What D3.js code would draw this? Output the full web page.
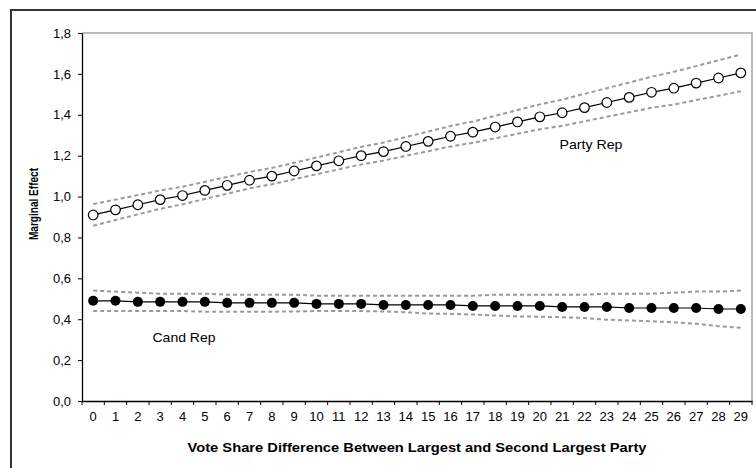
<!DOCTYPE html>
<html>
<head>
<meta charset="utf-8">
<script src="https://cdn.jsdelivr.net/npm/d3@7"></script>
<style>
  html, body { margin: 0; padding: 0; background: #fff; }
  svg { display: block; font-family: "Liberation Sans", Arial, sans-serif; }
</style>
</head>
<body>
<svg id="chart" width="756" height="468"></svg>
<script>
// Vote share difference categories (0..29)
const categories = ["0","1","2","3","4","5","6","7","8","9","10","11","12","13","14","15","16","17","18","19","20","21","22","23","24","25","26","27","28","29"];

// Party Rep: marginal effect and confidence bounds
const partyRep = [0.91,0.935,0.96,0.985,1.005,1.03,1.055,1.08,1.10,1.125,1.15,1.175,1.20,1.22,1.245,1.27,1.295,1.315,1.34,1.365,1.39,1.41,1.435,1.46,1.485,1.51,1.53,1.555,1.58,1.605];
const partyUpper = [0.963,0.985,1.007,1.030,1.048,1.072,1.096,1.120,1.140,1.165,1.191,1.217,1.243,1.264,1.291,1.318,1.345,1.367,1.395,1.423,1.451,1.474,1.502,1.530,1.558,1.586,1.610,1.638,1.667,1.695];
const partyLower = [0.857,0.885,0.913,0.940,0.962,0.988,1.014,1.040,1.060,1.085,1.109,1.133,1.157,1.176,1.199,1.222,1.245,1.263,1.285,1.307,1.329,1.346,1.368,1.390,1.412,1.434,1.450,1.472,1.493,1.515];

// Cand Rep: marginal effect and confidence bounds
const candRep = [0.49,0.49,0.485,0.485,0.485,0.485,0.48,0.48,0.48,0.48,0.475,0.475,0.475,0.47,0.47,0.47,0.47,0.465,0.465,0.465,0.465,0.46,0.46,0.46,0.455,0.455,0.455,0.455,0.45,0.45];
const candUpper = [0.54,0.535,0.53,0.525,0.525,0.525,0.52,0.52,0.52,0.52,0.515,0.515,0.515,0.515,0.515,0.515,0.515,0.515,0.52,0.52,0.52,0.52,0.52,0.525,0.525,0.525,0.53,0.535,0.535,0.54];
const candLower = [0.44,0.44,0.44,0.44,0.44,0.437,0.436,0.436,0.437,0.438,0.44,0.44,0.44,0.438,0.434,0.428,0.426,0.423,0.418,0.414,0.412,0.41,0.406,0.398,0.394,0.39,0.385,0.378,0.366,0.358];

const yTicks = [0,0.2,0.4,0.6,0.8,1.0,1.2,1.4,1.6,1.8];

const xTitle = "Vote Share Difference Between Largest and Second Largest Party";
const yTitle = "Marginal Effect";
const seriesLabels = ["Party Rep", "Cand Rep"];

const svg = d3.select("#chart");
const plot = { left: 82, right: 752, top: 33, bottom: 401 };

// Outer chart frame
svg.append("rect")
  .attr("x", 11).attr("y", 10)
  .attr("width", 760).attr("height", 470)
  .attr("fill", "#fff").attr("stroke", "#333").attr("stroke-width", 2);

const x = d3.scaleBand().domain(categories).range([plot.left, plot.right]).padding(0);
const cx = d => x(d) + x.bandwidth() / 2;
const y = d3.scaleLinear().domain([0, 1.8]).range([plot.bottom, plot.top]);

const locale = d3.formatLocale({ decimal: ",", thousands: ".", grouping: [3], currency: ["", ""] });
const fmt = locale.format(".1f");

// Plot area border (top and right)
svg.append("path")
  .attr("d", `M${plot.left},${plot.top}H${plot.right}V${plot.bottom}`)
  .attr("fill", "none").attr("stroke", "#a6a6a6").attr("stroke-width", 1.5);

// Y axis
const yAxis = svg.append("g")
  .attr("transform", `translate(${plot.left},0)`)
  .call(d3.axisLeft(y).tickValues(yTicks).tickFormat(fmt).tickSize(4).tickSizeOuter(0).tickPadding(7));
yAxis.select(".domain").attr("stroke", "#000").attr("stroke-width", 1.3);
yAxis.selectAll(".tick line").attr("stroke", "#000");
yAxis.selectAll(".tick text").attr("font-size", "13px").attr("fill", "#000")
  .attr("font-family", "Liberation Sans, Arial, sans-serif");

// X axis: labels centred in each band, tick marks on band edges
const xAxis = svg.append("g")
  .attr("transform", `translate(0,${plot.bottom})`)
  .call(d3.axisBottom(x).tickSize(0).tickSizeOuter(0).tickPadding(11));
xAxis.select(".domain").attr("stroke", "#000").attr("stroke-width", 1.3);
xAxis.selectAll(".tick text").attr("font-size", "13px").attr("fill", "#000")
  .attr("font-family", "Liberation Sans, Arial, sans-serif");
const edges = categories.map(d => x(d)).concat([plot.right]);
svg.append("g").selectAll("line").data(edges).join("line")
  .attr("x1", d => d).attr("x2", d => d)
  .attr("y1", plot.bottom).attr("y2", plot.bottom + 4)
  .attr("stroke", "#000").attr("stroke-width", 1);

// Axis titles
svg.append("text")
  .attr("x", (plot.left + plot.right) / 2).attr("y", 451.5)
  .attr("text-anchor", "middle").attr("font-weight", "bold").attr("font-size", "13px")
  .attr("textLength", 459).attr("lengthAdjust", "spacingAndGlyphs")
  .text(xTitle);
svg.append("text")
  .attr("transform", "translate(38,204) rotate(-90)")
  .attr("text-anchor", "middle").attr("font-weight", "bold").attr("font-size", "13px")
  .attr("textLength", 72).attr("lengthAdjust", "spacingAndGlyphs")
  .text(yTitle);

const line = d3.line().x((d, i) => cx(categories[i])).y(d => y(d));

// Confidence bounds (dashed)
[partyUpper, partyLower, candUpper, candLower].forEach(arr => {
  svg.append("path").datum(arr)
    .attr("d", line)
    .attr("fill", "none").attr("stroke", "#9a9a9a")
    .attr("stroke-width", 2).attr("stroke-dasharray", "4,3");
});

// Point-estimate lines
[partyRep, candRep].forEach(arr => {
  svg.append("path").datum(arr)
    .attr("d", line)
    .attr("fill", "none").attr("stroke", "#000").attr("stroke-width", 1.2);
});

// Markers
svg.append("g").selectAll("circle").data(partyRep).join("circle")
  .attr("cx", (d, i) => cx(categories[i])).attr("cy", d => y(d))
  .attr("r", 4.8).attr("fill", "#fff").attr("stroke", "#000").attr("stroke-width", 1.2);
svg.append("g").selectAll("circle").data(candRep).join("circle")
  .attr("cx", (d, i) => cx(categories[i])).attr("cy", d => y(d))
  .attr("r", 5).attr("fill", "#000");

// Series labels
svg.append("text")
  .attr("x", 591).attr("y", 149)
  .attr("text-anchor", "middle").attr("font-size", "13px")
  .attr("textLength", 63).attr("lengthAdjust", "spacingAndGlyphs")
  .text(seriesLabels[0]);
svg.append("text")
  .attr("x", 184).attr("y", 342)
  .attr("text-anchor", "middle").attr("font-size", "13px")
  .attr("textLength", 63).attr("lengthAdjust", "spacingAndGlyphs")
  .text(seriesLabels[1]);
</script>
</body>
</html>
